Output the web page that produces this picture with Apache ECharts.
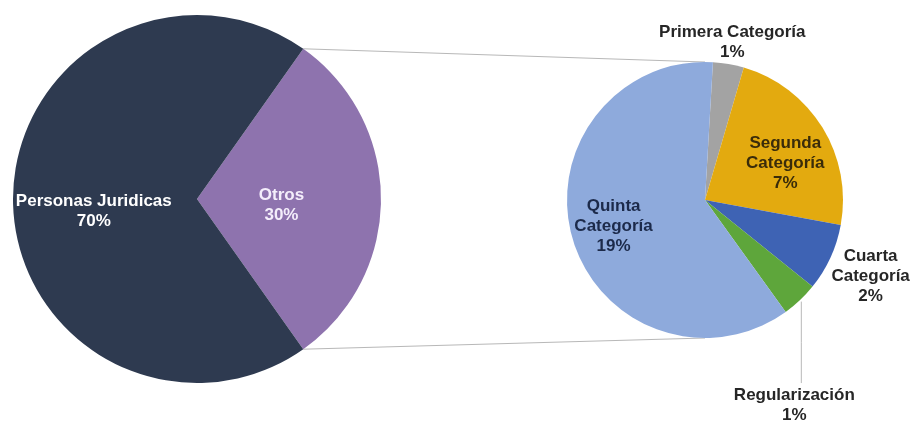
<!DOCTYPE html>
<html><head><meta charset="utf-8">
<script src="https://cdn.jsdelivr.net/npm/echarts@6/dist/echarts.min.js"></script>
<style>html,body{margin:0;padding:0;background:#fff}#c{width:911px;height:423px}</style>
</head><body><div id="c"></div>
<script>
// ---- data ----
const mainCategories = ['Otros', 'Personas Juridicas'];
const mainValues = [30.4, 69.6];
const subCategories = ['Primera Categoría', 'Segunda Categoría', 'Cuarta Categoría', 'Regularización', 'Quinta Categoría'];
const subLabelNames = ['Primera Categoría', 'Segunda\nCategoría', 'Cuarta\nCategoría', 'Regularización', 'Quinta\nCategoría'];
const subValues = [1.1, 7.1, 2.4, 1.3, 18.5];

// ---- styles / layout ----
const mainColors = ['#8e73ae', '#2e3a50'];
const mainLabelColors = ['#f4eefb', '#ffffff'];
const subColors = ['#a3a3a3', '#e3aa0f', '#3e63b4', '#5ea63b', '#8eaadc'];
const subLabelColors = ['#262626', '#3a2c0a', '#262626', '#262626', '#1c2a4a'];
const mainGeo = { cx: 197, cy: 199, r: 184 };
const subGeo = { cx: 705, cy: 200, r: 138 };
const subStartCw = 3.3; // degrees clockwise from 12 o'clock
const mainPlace = [{ dist: 0.46, turn: 4 }, { dist: 0.565, turn: -7 }];
const subPlace = [{ dist: 1.16, turn: 0 }, { dist: 0.64, turn: 7 }, { dist: 1.32, turn: 0 }, { hang: 1.486, dx: -7 }, { dist: 0.69, turn: 0 }];

const grandTotal = mainValues.reduce((a, b) => a + b, 0);
const pct = v => Math.round(v / grandTotal * 100) + '%';

function sweep(values, startCw) {
  const total = values.reduce((a, b) => a + b, 0);
  let a = startCw;
  return values.map(v => { const s = a; a += v / total * 360; return { start: s, end: a, mid: (s + a) / 2 }; });
}
function polar(g, angCw, d) {
  const t = angCw * Math.PI / 180;
  return [g.cx + d * Math.sin(t), g.cy - d * Math.cos(t)];
}

const mainStartCw = 90 - (mainValues[0] / grandTotal * 360) / 2;
const mainSweep = sweep(mainValues, mainStartCw);
const subSweep = sweep(subValues, subStartCw);

const chart = echarts.init(document.getElementById('c'), null, { renderer: 'canvas' });

// connector lines from the "Otros" wedge edges to the top/bottom of the second pie
const p1 = polar(mainGeo, mainSweep[0].start, mainGeo.r);
const p2 = polar(mainGeo, mainSweep[0].end, mainGeo.r);
const q1 = polar(subGeo, 0, subGeo.r);
const q2 = polar(subGeo, 180, subGeo.r);

const fontBase = { fontFamily: 'Liberation Sans, Arial, sans-serif', fontWeight: 'bold', fontSize: 17, lineHeight: 20 };

chart.setOption({
  animation: false,
  backgroundColor: '#ffffff',
  graphic: [
    { type: 'line', shape: { x1: p1[0], y1: p1[1], x2: q1[0], y2: q1[1] }, style: { stroke: '#b8b8b8', lineWidth: 1 }, z: 0 },
    { type: 'line', shape: { x1: p2[0], y1: p2[1], x2: q2[0], y2: q2[1] }, style: { stroke: '#b8b8b8', lineWidth: 1 }, z: 0 }
  ],
  series: [
    {
      type: 'pie',
      center: [mainGeo.cx, mainGeo.cy],
      radius: mainGeo.r,
      startAngle: 90 - mainStartCw,
      clockwise: true,
      silent: true,
      avoidLabelOverlap: false,
      itemStyle: { borderWidth: 0 },
      label: Object.assign({ show: true, position: 'inside', align: 'center' }, fontBase),
      labelLine: { show: false },
      data: mainCategories.map((n, i) => ({
        name: n, value: mainValues[i],
        itemStyle: { color: mainColors[i] },
        label: { color: mainLabelColors[i], formatter: () => n + '\n' + pct(mainValues[i]) }
      })),
      labelLayout: function (params) {
        const i = params.dataIndex, pl = mainPlace[i];
        const pt = polar(mainGeo, mainSweep[i].mid + pl.turn, mainGeo.r * pl.dist);
        return { x: pt[0], y: pt[1], align: 'center', verticalAlign: 'middle' };
      }
    },
    {
      type: 'pie',
      center: [subGeo.cx, subGeo.cy],
      radius: subGeo.r,
      startAngle: 90 - subStartCw,
      clockwise: true,
      silent: true,
      avoidLabelOverlap: false,
      itemStyle: { borderWidth: 0 },
      label: Object.assign({ show: true, position: 'inside', align: 'center' }, fontBase),
      labelLine: { show: false },
      data: subCategories.map((n, i) => ({
        name: n, value: subValues[i],
        itemStyle: { color: subColors[i] },
        label: Object.assign({ color: subLabelColors[i], formatter: () => subLabelNames[i] + '\n' + pct(subValues[i]) },
          subPlace[i].hang ? { position: 'outside' } : {}),
        labelLine: subPlace[i].hang ? { show: true, lineStyle: { color: '#b8b8b8', width: 1 } } : { show: false }
      })),
      labelLayout: function (params) {
        const i = params.dataIndex, pl = subPlace[i];
        if (pl.hang) {
          const a = polar(subGeo, subSweep[i].mid, subGeo.r + 2);
          const y = subGeo.cy + subGeo.r * pl.hang;
          const top = y - params.labelRect.height / 2 - 2;
          return { x: a[0] + pl.dx, y: y, align: 'center', verticalAlign: 'middle',
            labelLinePoints: [[a[0], a[1]], [a[0], (a[1] + top) / 2], [a[0], top]] };
        }
        const pt = polar(subGeo, subSweep[i].mid + pl.turn, subGeo.r * pl.dist);
        return { x: pt[0], y: pt[1], align: 'center', verticalAlign: 'middle' };
      }
    }
  ]
});
</script>
</body></html>
